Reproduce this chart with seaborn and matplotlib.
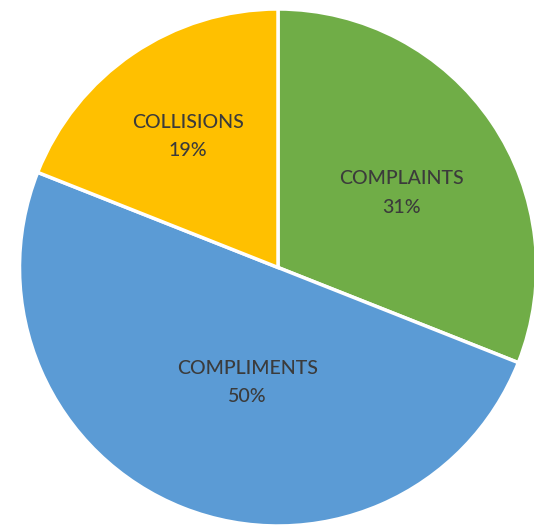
import matplotlib
matplotlib.use("Agg")
import matplotlib.pyplot as plt
import seaborn as sns

categories = ["COMPLAINTS", "COMPLIMENTS", "COLLISIONS"]
values = [31, 50, 19]
colors = ["#70AD47", "#5B9BD5", "#FFC000"]
# label positions in data units (radius = 1)
label_pos = [(0.477, 0.288), (-0.117, -0.444), (-0.35, 0.508)]

sns.set_theme(style="white")
plt.rcParams["font.family"] = ["Lato", "DejaVu Sans"]

W, H = 534, 526
fig = plt.figure(figsize=(W / 100, H / 100), dpi=100)
cx, cy, r = 278, 267.5, 258.5
ax = fig.add_axes([(cx - r) / W, (H - cy - r) / H, 2 * r / W, 2 * r / H])

wedges, _ = ax.pie(values, colors=colors, startangle=90, counterclock=False,
                   radius=1, wedgeprops=dict(edgecolor="white", linewidth=2.5))
ax.set_xlim(-1, 1)
ax.set_ylim(-1, 1)
ax.set_aspect("equal")
ax.axis("off")

total = sum(values)
for cat, v, (x, y) in zip(categories, values, label_pos):
    ax.text(x, y, f"{cat}\n{round(100 * v / total)}%", ha="center", va="center",
            fontsize=14, color="#3b3b3b", linespacing=1.8, fontweight="medium")

fig.savefig("out.png", dpi=100)
